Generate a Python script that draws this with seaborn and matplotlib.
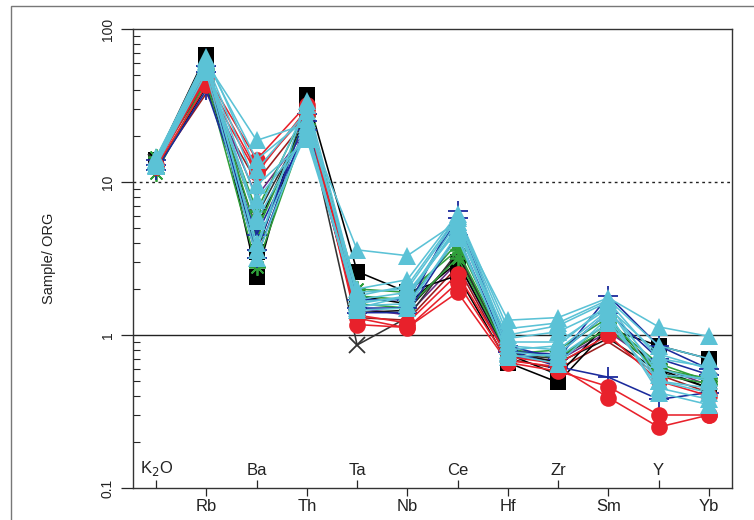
import matplotlib
matplotlib.use("Agg")
import matplotlib.pyplot as plt
import matplotlib.transforms as mtransforms
from matplotlib.patches import Rectangle
from matplotlib.ticker import LogLocator, NullFormatter, FixedLocator
import seaborn as sns

# elements along the x axis (ORG normalised spider diagram)
elements = ["K$_2$O", "Rb", "Ba", "Th", "Ta", "Nb", "Ce", "Hf", "Zr", "Sm", "Y", "Yb"]

# sample / ORG values
black_sq_1 = [14.0, 68, 2.4, 37, 2.6, 1.9, 2.45, 0.66, 0.49, 1.10, 0.85, 0.70]
black_sq_2 = [13.0, 55, 3.5, 30, 1.8, 1.6, 3.0, 0.75, 0.55, 1.20, 0.60, 0.45]
red_1 = [12.5, 43, 11.4, 30, 1.29, 1.11, 2.2, 0.68, 0.62, 0.39, 0.25, 0.30]
red_2 = [12.8, 48, 12.0, 28, 1.17, 1.12, 1.9, 0.66, 0.58, 0.46, 0.30, 0.30]
red_3 = [13.0, 50, 14.0, 32, 1.35, 1.20, 2.5, 0.72, 0.65, 1.00, 0.50, 0.40]
cross_1 = [13.5, 45, 6.0, 25, 0.86, 1.30, 3.5, 0.75, 0.70, 1.10, 0.60, 0.50]
blue_1 = [13.0, 52, 3.2, 25, 1.5, 1.5, 6.5, 0.80, 0.62, 0.53, 0.38, 0.42]
blue_2 = [14.0, 57, 3.6, 28, 1.7, 1.7, 5.8, 0.85, 0.70, 1.80, 0.85, 0.60]
blue_3 = [12.0, 40, 4.5, 22, 1.4, 1.4, 4.5, 0.78, 0.75, 1.40, 0.70, 0.55]
green_1 = [14.5, 55, 4.7, 27, 2.0, 1.9, 3.6, 0.80, 0.72, 1.10, 0.60, 0.52]
green_2 = [11.5, 46, 2.8, 24, 1.6, 1.5, 3.2, 0.75, 0.80, 1.30, 0.55, 0.48]
green_3 = [13.0, 50, 6.5, 30, 1.8, 1.7, 4.0, 0.82, 0.70, 1.20, 0.65, 0.50]
thin_1 = [12.5, 38, 10.0, 26, 1.3, 1.25, 2.8, 0.70, 0.60, 0.90, 0.55, 0.42]
thin_2 = [13.5, 47, 8.0, 22, 1.5, 1.35, 3.0, 0.72, 0.68, 1.05, 0.62, 0.47]
thin_3 = [12.0, 42, 5.0, 27, 1.4, 1.45, 3.3, 0.78, 0.66, 0.95, 0.58, 0.45]
cyan_1 = [14.0, 60, 18.7, 24, 3.6, 3.3, 5.5, 1.25, 1.30, 1.75, 1.13, 0.98]
cyan_2 = [13.5, 62, 14.0, 26, 2.0, 2.3, 6.2, 1.10, 1.20, 1.70, 0.85, 0.70]
cyan_3 = [14.0, 58, 7.6, 20, 1.7, 1.9, 4.8, 0.95, 1.05, 1.50, 0.75, 0.60]
cyan_4 = [13.0, 55, 5.6, 22, 1.5, 1.8, 5.0, 0.80, 0.85, 1.60, 0.55, 0.52]
cyan_5 = [14.5, 64, 3.6, 34, 1.9, 2.0, 5.8, 0.90, 0.90, 1.50, 0.50, 0.45]
cyan_6 = [13.5, 56, 4.0, 21, 1.55, 1.6, 4.3, 0.75, 0.65, 1.30, 0.45, 0.38]
cyan_7 = [14.0, 60, 9.5, 19, 1.65, 1.75, 5.2, 0.85, 0.80, 1.45, 0.60, 0.50]
cyan_8 = [12.8, 52, 3.2, 23, 1.45, 1.5, 4.6, 0.72, 0.75, 1.40, 0.42, 0.35]
cyan_9 = [14.0, 66, 12.0, 29, 1.8, 2.1, 6.0, 1.00, 1.15, 1.65, 0.70, 0.62]
cyan_10 = [13.0, 58, 6.0, 32, 1.6, 1.8, 5.5, 0.78, 0.72, 1.20, 0.50, 0.42]

# (values, colour, marker, marker size) in drawing order
samples = [
    (thin_1, "#9b1c1c", "", 0),
    (thin_2, "#6a2a86", "", 0),
    (thin_3, "#111111", "", 0),
    (black_sq_1, "black", "s", 11),
    (black_sq_2, "black", "s", 11),
    (cross_1, "#333333", "x", 12),
    (green_1, "#2f9e3a", (8, 2, 0), 12),
    (green_2, "#2f9e3a", (8, 2, 0), 12),
    (green_3, "#2f9e3a", (8, 2, 0), 12),
    (blue_1, "#1b2a9c", "+", 15),
    (blue_2, "#1b2a9c", "+", 15),
    (blue_3, "#1b2a9c", "+", 15),
    (red_1, "#e8212b", "o", 12),
    (red_2, "#e8212b", "o", 12),
    (red_3, "#e8212b", "o", 12),
    (cyan_1, "#5bc2d6", "^", 13.5),
    (cyan_2, "#5bc2d6", "^", 13.5),
    (cyan_3, "#5bc2d6", "^", 13.5),
    (cyan_4, "#5bc2d6", "^", 13.5),
    (cyan_5, "#5bc2d6", "^", 13.5),
    (cyan_6, "#5bc2d6", "^", 13.5),
    (cyan_7, "#5bc2d6", "^", 13.5),
    (cyan_8, "#5bc2d6", "^", 13.5),
    (cyan_9, "#5bc2d6", "^", 13.5),
    (cyan_10, "#5bc2d6", "^", 13.5),
]

sns.set_style("ticks")
plt.rcParams["font.family"] = ["Liberation Sans", "DejaVu Sans"]

fig = plt.figure(figsize=(7.54, 5.20), dpi=100)
ax = fig.add_axes([133 / 754, 32 / 520, 599 / 754, 459 / 520])

pos = list(range(1, len(elements) + 1))
for vals, col, mk, ms in samples:
    filled = mk in ("s", "o", "^")
    sns.lineplot(x=pos, y=vals, ax=ax, color=col, linewidth=1.15,
                 marker=mk if mk != "" else None, markersize=ms,
                 markeredgewidth=0 if filled else 1.3,
                 markeredgecolor=col, legend=False)

ax.axhline(1, color="#222222", linewidth=1.0, zorder=0)
ax.axhline(10, color="#222222", linewidth=1.0, linestyle=(0, (2, 2.5)), zorder=0)

ax.set_yscale("log")
ax.set_ylim(0.1, 100)
ax.set_xlim(0.54, 12.46)
ax.set_xlabel("")
ax.set_ylabel("Sample/ ORG", fontsize=10.5, labelpad=32, color="#222222")

# y ticks: major outward, minor inward
ax.yaxis.set_major_locator(FixedLocator([0.1, 1, 10, 100]))
ax.set_yticklabels(["0.1", "1", "10", "100"])
ax.yaxis.set_minor_locator(LogLocator(base=10, subs=range(2, 10)))
ax.yaxis.set_minor_formatter(NullFormatter())
ax.tick_params(axis="y", which="major", direction="out", length=9, width=0.9,
               labelsize=10, labelrotation=90, pad=4, labelcolor="#222222")
ax.tick_params(axis="y", which="minor", direction="in", length=5, width=0.8)
for lab in ax.get_yticklabels():
    lab.set_verticalalignment("center")

# x ticks: odd elements labelled inside with inward ticks, even ones below
ax.set_xticks(pos[1::2])
ax.set_xticklabels(elements[1::2], fontsize=12, color="#222222")
ax.set_xticks(pos[0::2], minor=True)
ax.tick_params(axis="x", which="major", direction="out", length=6, width=0.9, pad=2)
ax.tick_params(axis="x", which="minor", direction="in", length=6, width=0.9)
trans = mtransforms.blended_transform_factory(ax.transData, ax.transAxes)
for p, name in zip(pos[0::2], elements[0::2]):
    ax.text(p, 0.022, name, transform=trans, ha="center", va="bottom",
            fontsize=12, color="#222222")

for s in ax.spines.values():
    s.set_color("#333333")
    s.set_linewidth(1.0)

fig.patches.append(Rectangle((11 / 754, -0.1), 1.2, 1.1 - 6 / 520, transform=fig.transFigure,
                             fill=False, edgecolor="#777777", linewidth=1.0))

fig.savefig("out.png", dpi=100)
